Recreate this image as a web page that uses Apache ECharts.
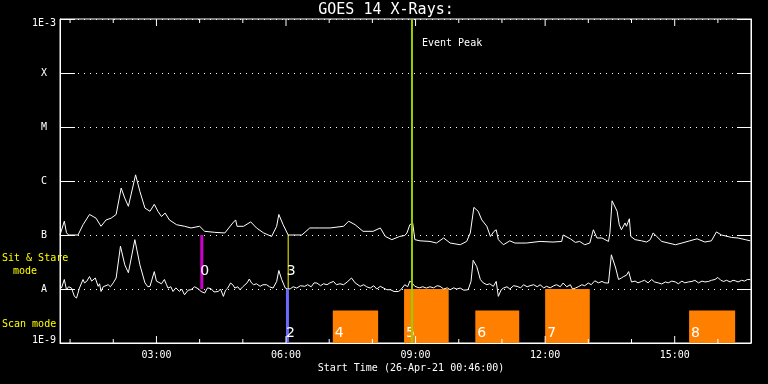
<!DOCTYPE html>
<html><head><meta charset="utf-8">
<script src="https://cdn.jsdelivr.net/npm/echarts@6/dist/echarts.min.js"></script>
<style>html,body{margin:0;padding:0;background:#000}#c{width:768px;height:384px}</style>
</head><body><div id="c"></div>
<script>
// ---- data (time in minutes since 00:00 on 26-Apr-21, flux in W/m^2) ----
const startMinute = 46, endMinute = 1006;
const yTickLabels = ['1E-9', 'A', 'B', 'C', 'M', 'X', '1E-3'];
const xTickMinutes = [60,120,180,240,300,360,420,480,540,600,660,720,780,840,900,960];
const xTickLabels = ['','','03:00','','','06:00','','','09:00','','','12:00','','','15:00',''];

const longChannel = [[46,1.0e-7],[48,1.0e-7],[52,1.8e-7],[55,1.1e-7],[58,1.0e-7],[71,1.0e-7],[78,1.55e-7],[87,2.4e-7],[92,2.2e-7],[96,2.05e-7],[103,1.45e-7],[110,1.9e-7],[117,2.05e-7],[124,2.4e-7],[131,7.4e-7],[136,4.8e-7],[141,3.4e-7],[151,1.3e-6],[157,6.4e-7],[164,3.15e-7],[171,2.75e-7],[177,3.7e-7],[182,2.75e-7],[187,2.2e-7],[192,2.55e-7],[198,1.9e-7],[208,1.55e-7],[219,1.45e-7],[228,1.35e-7],[240,1.45e-7],[247,1.17e-7],[261,1.12e-7],[275,1.09e-7],[286,1.67e-7],[290,1.9e-7],[292,1.45e-7],[301,1.45e-7],[311,1.75e-7],[319,1.35e-7],[329,1.09e-7],[340,9.4e-8],[347,1.45e-7],[350,2.4e-7],[356,1.55e-7],[363,1.0e-7],[382,1.0e-7],[393,1.35e-7],[407,1.35e-7],[421,1.35e-7],[440,1.45e-7],[447,1.8e-7],[456,1.55e-7],[467,1.17e-7],[481,1.17e-7],[491,1.35e-7],[498,9.4e-8],[507,8.2e-8],[518,9.4e-8],[525,9.8e-8],[528,1.09e-7],[532,1.55e-7],[536,1.67e-7],[539,8.2e-8],[546,7.8e-8],[560,7.6e-8],[569,7.1e-8],[579,8.8e-8],[588,7.1e-8],[602,6.6e-8],[611,7.6e-8],[616,1.09e-7],[621,3.25e-7],[627,2.75e-7],[632,1.9e-7],[639,1.45e-7],[644,9.4e-8],[649,1.17e-7],[652,1.25e-7],[655,8.2e-8],[662,6.6e-8],[671,7.8e-8],[678,7.1e-8],[694,7.1e-8],[713,7.6e-8],[731,7.4e-8],[743,7.6e-8],[745,1.0e-7],[755,8.5e-8],[762,7.3e-8],[768,7.6e-8],[775,6.6e-8],[782,7.1e-8],[787,1.25e-7],[792,8.8e-8],[799,8.8e-8],[808,7.6e-8],[810,1.09e-7],[813,4.3e-7],[820,2.75e-7],[823,1.55e-7],[826,1.25e-7],[831,1.67e-7],[833,1.45e-7],[837,2.0e-7],[839,9.4e-8],[845,8.2e-8],[854,7.8e-8],[861,7.4e-8],[866,8.2e-8],[870,1.09e-7],[875,9.4e-8],[882,7.6e-8],[901,6.6e-8],[910,7.1e-8],[921,7.8e-8],[931,8.5e-8],[942,7.4e-8],[951,7.8e-8],[958,1.14e-7],[965,1.0e-7],[979,9.0e-8],[988,8.8e-8],[998,8.2e-8],[1005,7.8e-8]];

const shortChannel = [[48,1.04e-8],[52,1.5e-8],[55,9.7e-9],[58,1.1e-8],[62,1.04e-8],[66,7.3e-9],[69,6.8e-9],[73,1.04e-8],[78,1.5e-8],[80,1.3e-8],[83,1.38e-8],[87,1.7e-8],[90,1.4e-8],[92,1.5e-8],[95,1.6e-8],[99,1.12e-8],[101,1.25e-8],[103,9.0e-9],[106,1.1e-8],[108,1.04e-8],[113,1.2e-8],[116,1.1e-8],[120,1.3e-8],[124,1.6e-8],[130,6.2e-8],[136,2.8e-8],[141,2.0e-8],[150,8.2e-8],[157,2.8e-8],[164,1.3e-8],[168,1.1e-8],[171,1.12e-8],[177,2.1e-8],[180,1.4e-8],[182,1.3e-8],[187,1.25e-8],[191,1.5e-8],[194,1.2e-8],[196,1.04e-8],[200,1.1e-8],[203,9.0e-9],[207,1.05e-8],[212,9.0e-9],[215,1.0e-8],[219,7.8e-9],[224,9.5e-9],[228,9.7e-9],[233,1.1e-8],[238,1.01e-8],[242,9.0e-9],[247,8.4e-9],[251,1.05e-8],[256,1.01e-8],[260,8.8e-9],[266,9.0e-9],[269,1.0e-8],[273,7.3e-9],[276,9.5e-9],[279,1.04e-8],[283,1.29e-8],[286,1.2e-8],[289,1.04e-8],[293,1.1e-8],[296,9.7e-9],[300,1.1e-8],[303,1.2e-8],[306,1.3e-8],[309,1.53e-8],[312,1.3e-8],[315,1.2e-8],[319,1.25e-8],[324,1.12e-8],[328,1.2e-8],[333,1.2e-8],[337,1.1e-8],[342,1.04e-8],[347,1.38e-8],[350,2.2e-8],[354,1.5e-8],[359,1.04e-8],[362,1.0e-8],[366,1.01e-8],[370,1.1e-8],[375,1.04e-8],[380,1.15e-8],[386,1.12e-8],[390,1.2e-8],[395,1.1e-8],[399,1.3e-8],[403,1.29e-8],[408,1.15e-8],[412,1.25e-8],[417,1.2e-8],[421,1.3e-8],[426,1.38e-8],[430,1.2e-8],[435,1.25e-8],[440,1.2e-8],[445,1.35e-8],[451,1.6e-8],[456,1.3e-8],[463,1.12e-8],[468,1.2e-8],[472,1.1e-8],[477,1.04e-8],[482,1.15e-8],[486,1.0e-8],[491,1.12e-8],[495,1.05e-8],[500,9.7e-9],[505,9.7e-9],[510,9.0e-9],[516,9.0e-9],[519,9.5e-9],[525,1.2e-8],[529,1.1e-8],[532,1.4e-8],[535,1.3e-8],[539,1.12e-8],[545,1.05e-8],[550,1.1e-8],[555,1.04e-8],[560,1.1e-8],[565,1.05e-8],[570,1.15e-8],[574,1.12e-8],[579,1.0e-8],[584,1.05e-8],[588,9.7e-9],[593,1.05e-8],[597,1.0e-8],[602,1.04e-8],[607,9.5e-9],[613,9.7e-9],[617,1.38e-8],[620,3.4e-8],[625,2.6e-8],[630,1.5e-8],[634,1.3e-8],[639,1.2e-8],[643,1.25e-8],[648,1.12e-8],[652,1.38e-8],[655,7.3e-9],[659,9.7e-9],[662,1.04e-8],[667,1.1e-8],[671,1.0e-8],[676,1.15e-8],[681,1.12e-8],[686,1.05e-8],[690,1.2e-8],[695,1.1e-8],[699,1.15e-8],[704,1.2e-8],[709,1.1e-8],[713,1.2e-8],[718,1.05e-8],[722,1.12e-8],[727,1.05e-8],[732,1.15e-8],[736,1.2e-8],[741,1.1e-8],[745,1.29e-8],[750,1.1e-8],[755,1.2e-8],[758,1.0e-8],[762,1.04e-8],[766,1.1e-8],[771,1.2e-8],[775,1.15e-8],[780,1.29e-8],[784,1.2e-8],[789,1.42e-8],[794,1.3e-8],[799,1.38e-8],[803,1.3e-8],[808,1.29e-8],[812,4.3e-8],[818,2.45e-8],[822,1.5e-8],[826,1.6e-8],[829,1.7e-8],[833,1.8e-8],[836,2.1e-8],[840,1.35e-8],[845,1.4e-8],[849,1.3e-8],[854,1.38e-8],[858,1.45e-8],[863,1.3e-8],[868,1.5e-8],[872,1.35e-8],[877,1.3e-8],[882,1.24e-8],[887,1.35e-8],[891,1.3e-8],[896,1.4e-8],[901,1.35e-8],[905,1.25e-8],[910,1.4e-8],[914,1.3e-8],[919,1.35e-8],[924,1.38e-8],[928,1.45e-8],[933,1.3e-8],[938,1.4e-8],[942,1.35e-8],[947,1.38e-8],[951,1.45e-8],[956,1.5e-8],[960,1.64e-8],[964,1.45e-8],[968,1.38e-8],[972,1.45e-8],[977,1.35e-8],[981,1.45e-8],[984,1.42e-8],[988,1.35e-8],[993,1.45e-8],[997,1.4e-8],[1001,1.5e-8],[1005,1.49e-8]];

// scan mode windows
const scanLabels = ['4', '5', '6', '7', '8'];
const scanStart = [425, 524, 623, 720, 920];
const scanEnd = [488, 586, 684, 782, 984];
const scanTop = [4e-9, 1e-8, 4e-9, 1e-8, 4e-9];

// event markers
const eventLabels = ['0', '2', '3', 'Event Peak'];
const eventTimes = [243, 362, 363, 535];
const eventLow = [1e-8, 1e-9, 1e-8, 1e-9];
const eventHigh = [1e-7, 1e-8, 1e-7, 1e-3];

// ---- styles ----
const eventColors = ['#cc00cc', '#6a6aff', '#ffff00', '#9acd00'];
const eventWidths = [3, 3, 1, 2];
const FONT = '"DejaVu Sans Mono", monospace';

const chart = echarts.init(document.getElementById('c'), null, {renderer: 'canvas'});

function yLabel(v) {
  const e = Math.round(Math.log10(v));
  const s = yTickLabels[e + 9];
  if (e === -3) return '{hi|' + s + '}';
  if (e === -9) return '{lo|' + s + '}';
  return s;
}

const option = {
  backgroundColor: '#000',
  animation: false,
  grid: {left: 60, right: 17, top: 19, bottom: 41, show: true, borderColor: '#fff', borderWidth: 1, backgroundColor: 'transparent'},
  xAxis: {
    type: 'value', min: startMinute, max: endMinute,
    axisLine: {show: true, lineStyle: {color: '#fff', width: 1}},
    axisTick: {show: false}, axisLabel: {show: false}, splitLine: {show: false}
  },
  yAxis: [{
    type: 'log', logBase: 10, min: 1e-9, max: 1e-3,
    axisLine: {show: true, lineStyle: {color: '#fff', width: 1}},
    axisTick: {show: true, inside: true, length: 15, lineStyle: {color: '#fff', width: 1}},
    axisLabel: {
      color: '#fff', fontFamily: FONT, fontSize: 10, align: 'center', margin: 16,
      formatter: yLabel,
      rich: {
        hi: {color: '#fff', fontFamily: FONT, fontSize: 10, padding: [8, 0, 0, 0]},
        lo: {color: '#fff', fontFamily: FONT, fontSize: 10, padding: [0, 0, 6, 0]}
      }
    },
    splitLine: {show: true, lineStyle: {color: '#fff', width: 1, type: [1, 5]}}
  }, {
    type: 'log', logBase: 10, min: 1e-9, max: 1e-3, position: 'right',
    axisLine: {show: true, lineStyle: {color: '#fff', width: 1}},
    axisTick: {show: true, inside: true, length: 14, lineStyle: {color: '#fff', width: 1}},
    axisLabel: {show: false}, splitLine: {show: false}
  }],
  graphic: [
    {type: 'text', x: 386, y: 10, style: {text: 'GOES 14 X-Rays:', fill: '#fff', font: '15px ' + FONT, align: 'center', textAlign: 'center', verticalAlign: 'middle', textVerticalAlign: 'middle'}},
    {type: 'text', x: 411, y: 368, style: {text: 'Start Time (26-Apr-21 00:46:00)', fill: '#fff', font: '10px ' + FONT, align: 'center', textAlign: 'center', verticalAlign: 'middle', textVerticalAlign: 'middle'}},
    {type: 'text', x: 2, y: 258, style: {text: 'Sit & Stare', fill: '#ffff00', font: '10px ' + FONT, align: 'left', textAlign: 'left', verticalAlign: 'middle', textVerticalAlign: 'middle'}},
    {type: 'text', x: 13, y: 271, style: {text: 'mode', fill: '#ffff00', font: '10px ' + FONT, align: 'left', textAlign: 'left', verticalAlign: 'middle', textVerticalAlign: 'middle'}},
    {type: 'text', x: 2, y: 324, style: {text: 'Scan mode', fill: '#ffff00', font: '10px ' + FONT, align: 'left', textAlign: 'left', verticalAlign: 'middle', textVerticalAlign: 'middle'}}
  ],
  series: [
    {
      type: 'custom', name: 'scan', z: 1, encode: {x: [0, 1], y: 2},
      data: scanStart.map((s, i) => [s, scanEnd[i], scanTop[i]]),
      renderItem: function (params, api) {
        const p0 = api.coord([api.value(0), 1e-9]);
        const p1 = api.coord([api.value(1), api.value(2)]);
        return {type: 'group', children: [
          {type: 'rect', shape: {x: p0[0], y: p1[1], width: p1[0] - p0[0], height: p0[1] - p1[1]}, style: {fill: '#ff8000'}},
          {type: 'text', x: p0[0] + 2, y: p0[1] - 10, z2: 10, style: {text: scanLabels[params.dataIndex], fill: '#fff', font: '14px "DejaVu Sans", sans-serif', align: 'left', verticalAlign: 'middle'}}
        ]};
      }
    },
    {type: 'line', name: 'long', z: 3, data: longChannel, showSymbol: false, symbol: 'none', lineStyle: {color: '#fff', width: 1}},
    {type: 'line', name: 'short', z: 3, data: shortChannel, showSymbol: false, symbol: 'none', lineStyle: {color: '#fff', width: 1}},
    {
      type: 'custom', name: 'events', z: 5, encode: {x: 0, y: [1, 2]},
      data: eventTimes.map((t, i) => [t, eventLow[i], eventHigh[i]]),
      renderItem: function (params, api) {
        const i = params.dataIndex;
        const lo = api.coord([api.value(0), api.value(1)]);
        const hi = api.coord([api.value(0), api.value(2)]);
        const w = eventWidths[i];
        const kids = [{type: 'rect', shape: {x: lo[0] - w / 2, y: hi[1], width: w, height: lo[1] - hi[1]}, style: {fill: eventColors[i]}}];
        let tx, ty, font;
        if (api.value(2) >= 1e-3) { tx = lo[0] + 10; ty = hi[1] + 24; font = '10px ' + FONT; }
        else { tx = lo[0] - 1.5; ty = lo[1] - (api.value(1) <= 1e-9 ? 10 : 18); font = '14px "DejaVu Sans", sans-serif'; }
        kids.push({type: 'text', x: tx, y: ty, z2: 10, style: {text: eventLabels[i], fill: '#fff', font: font, align: 'left', verticalAlign: 'middle'}});
        return {type: 'group', children: kids};
      }
    },
    {
      type: 'custom', name: 'xticks', z: 6, encode: {x: 0, y: 1},
      data: xTickMinutes.map(m => [m, 1e-9]),
      renderItem: function (params, api) {
        const lbl = xTickLabels[params.dataIndex];
        const b = api.coord([api.value(0), 1e-9]);
        const t = api.coord([api.value(0), 1e-3]);
        const len = lbl ? 7 : 4;
        const kids = [
          {type: 'line', shape: {x1: b[0], y1: b[1], x2: b[0], y2: b[1] - len}, style: {stroke: '#fff', lineWidth: 1}},
          {type: 'line', shape: {x1: t[0], y1: t[1], x2: t[0], y2: t[1] + len}, style: {stroke: '#fff', lineWidth: 1}}
        ];
        if (lbl) kids.push({type: 'text', x: b[0], y: b[1] + 12, style: {text: lbl, fill: '#fff', font: '10px ' + FONT, align: 'center', verticalAlign: 'middle'}});
        return {type: 'group', children: kids};
      }
    }
  ]
};
chart.setOption(option);
</script>
</body></html>
